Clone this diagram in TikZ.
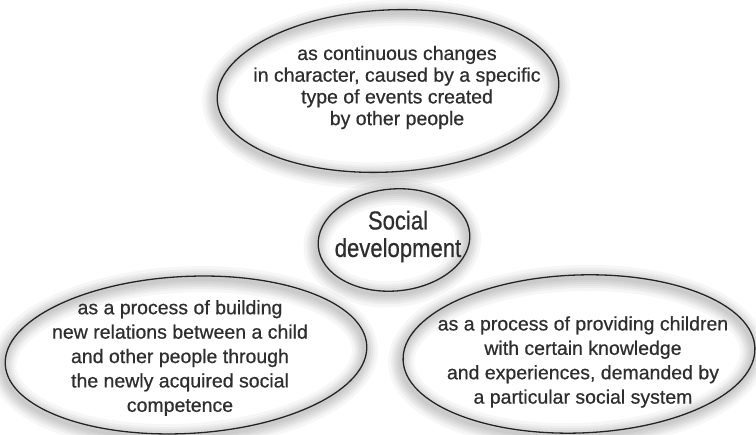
\documentclass[tikz,border=0pt]{standalone}
\usepackage{fontspec}
\setmainfont{Liberation Sans}[FakeBold=0.6]
\newfontfamily\cfont{Liberation Sans}[FakeStretch=0.85,FakeBold=0.6]
\definecolor{ink}{HTML}{2e2e2e}
\definecolor{edge}{HTML}{242424}
\begin{document}
\begin{tikzpicture}[x=1pt,y=1pt,
  txt/.style={align=center, inner sep=0pt, text=ink},
  bodyA/.style={txt, font=\fontsize{19.5}{21.7}\selectfont},
  bodyB/.style={txt, font=\fontsize{19.5}{24.4}\selectfont},
  ctr/.style={txt, font=\cfont\fontsize{26}{27.5}\selectfont},
  rim/.style={draw=edge, line width=1.3pt},
  glow/.style={draw=black, draw opacity=0.036}]
\useasboundingbox (0,0) rectangle (756,435);
\fill[white] (0,0) rectangle (756,435);
% ellipse centres
\coordinate (ct) at (388,344);
\coordinate (cc) at (394,195);
\coordinate (cl) at (186,80);
\coordinate (cr) at (579,81);
% soft glow round the outlines
\foreach \w in {4,8,12,16,20,26}{
  \draw[glow, line width=\w pt, rotate around={3:(ct)}] ([shift={(-2,-3)}]ct) ellipse [x radius=171, y radius=81];
  \draw[glow, line width=\w pt, rotate around={5:(cc)}] ([shift={(-2,-3)}]cc) ellipse [x radius=76, y radius=51];
  \draw[glow, line width=\w pt, rotate around={3:(cl)}] ([shift={(-2,-3)}]cl) ellipse [x radius=181, y radius=78.5];
  \draw[glow, line width=\w pt, rotate around={2:(cr)}] ([shift={(-2,-3)}]cr) ellipse [x radius=176, y radius=79];
}
% outlines
\draw[rim, rotate around={3:(ct)}] (ct) ellipse [x radius=171, y radius=81];
\draw[rim, rotate around={3:(cl)}] (cl) ellipse [x radius=181, y radius=78.5];
\draw[rim, rotate around={2:(cr)}] (cr) ellipse [x radius=176, y radius=79];
\draw[rim, rotate around={5:(cc)}] (cc) ellipse [x radius=76, y radius=51];
% texts
\node[bodyA] (top) at (397,347.5) {as continuous changes\\in character, caused by a specific\\type of events created\\by other people};
\node[ctr] (soc) at (398,198.5) {Social\\development};
\node[bodyB] (lft) at (180,77) {as a process of building\\new relations between a child\\and other people through\\the newly acquired social\\competence};
\node[bodyB] (rgt) at (583,73) {as a process of providing children\\with certain knowledge\\and experiences, demanded by\\a particular social system};
\end{tikzpicture}
\end{document}
